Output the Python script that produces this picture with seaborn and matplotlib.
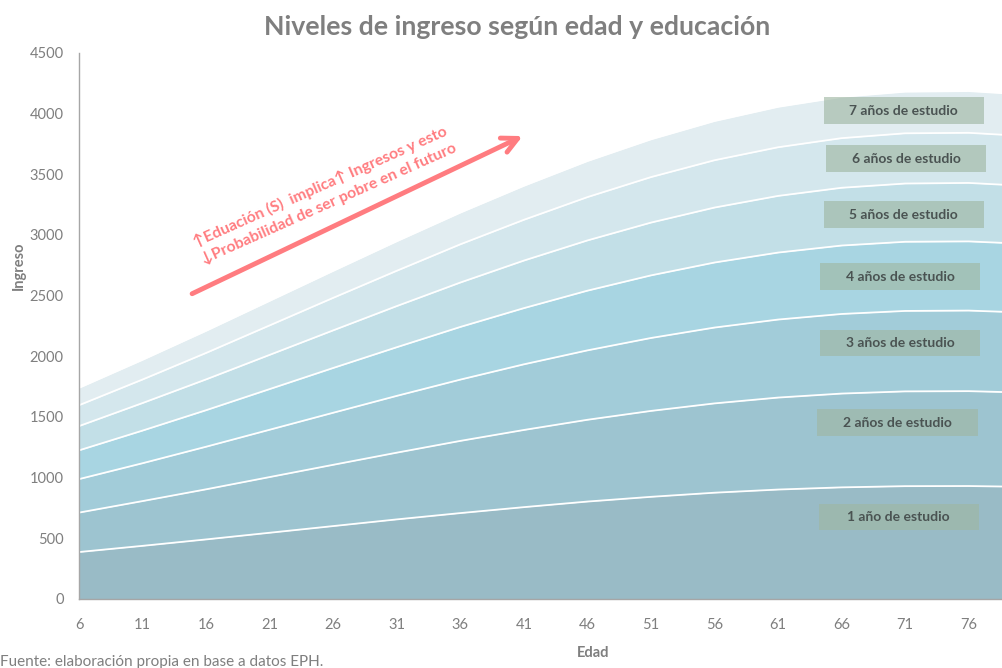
import matplotlib
matplotlib.use("Agg")
import matplotlib.pyplot as plt
import matplotlib.ticker as mticker
from matplotlib.patches import Rectangle
import seaborn as sns
import pandas as pd

# Edades (eje x) y niveles de ingreso para cada cantidad de años de estudio
edades = [6, 11, 16, 21, 26, 31, 36, 41, 46, 51, 56, 61, 66, 71, 76, 80]
ingreso_1 = [387, 438, 491, 546, 601, 656, 708, 757, 803, 842, 876, 902, 920, 930, 931, 925]
ingreso_2 = [712, 807, 904, 1005, 1106, 1206, 1303, 1393, 1477, 1550, 1612, 1660, 1693, 1711, 1713, 1702]
ingreso_3 = [988, 1119, 1255, 1395, 1535, 1674, 1808, 1934, 2049, 2151, 2237, 2303, 2349, 2374, 2377, 2362]
ingreso_4 = [1225, 1388, 1556, 1730, 1904, 2075, 2242, 2397, 2541, 2667, 2773, 2855, 2913, 2944, 2947, 2929]
ingreso_5 = [1425, 1615, 1810, 2012, 2214, 2414, 2608, 2789, 2955, 3102, 3226, 3322, 3389, 3424, 3429, 3407]
ingreso_6 = [1597, 1809, 2028, 2255, 2482, 2705, 2923, 3125, 3312, 3477, 3616, 3723, 3798, 3838, 3842, 3818]
ingreso_7 = [1740, 1971, 2210, 2457, 2704, 2948, 3184, 3405, 3609, 3788, 3939, 4056, 4138, 4181, 4186, 4160]

etiquetas = ["1 año de estudio", "2 años de estudio", "3 años de estudio",
             "4 años de estudio", "5 años de estudio", "6 años de estudio",
             "7 años de estudio"]

niveles = [ingreso_1, ingreso_2, ingreso_3, ingreso_4, ingreso_5, ingreso_6, ingreso_7]
colores = ["#99bbc6", "#9dc4d0", "#a2ccd9", "#a8d5e2", "#c2dfe7", "#d4e7ed", "#e2edf1"]

# posiciones de los recuadros (centro edad, centro ingreso)
pos_etiquetas = [(70.5, 676), (70.4, 1451), (70.6, 2110), (70.6, 2655),
                 (70.9, 3166), (71.1, 3627), (70.9, 4023)]

sns.set_style("white")
plt.rcParams['font.family'] = ['Lato', 'DejaVu Sans']

gris = "#7f7f7f"

fig = plt.figure(figsize=(10.03, 6.68), dpi=100)
ax = fig.add_axes([0.0788, 0.1033, 0.9212, 0.8174])

# areas
base = [0] * len(edades)
for vals, c in zip(niveles, colores):
    ax.fill_between(edades, base, vals, color=c, lw=0, zorder=1)
    base = vals

# lineas blancas entre capas
df = pd.DataFrame({
    "Edad": edades * len(niveles),
    "Ingreso": [v for vals in niveles for v in vals],
    "Nivel": [e for e in etiquetas for _ in edades],
})
sns.lineplot(data=df, x="Edad", y="Ingreso", hue="Nivel", palette=["white"] * 7,
             legend=False, lw=1.3, ax=ax, zorder=2)

# recuadros con etiquetas
for (cx, cy), txt in zip(pos_etiquetas, etiquetas):
    ax.add_patch(Rectangle((cx - 6.3, cy - 111), 12.6, 222, facecolor="#9fb7a2",
                           alpha=0.63, edgecolor="none", zorder=3))
    ax.text(cx, cy, txt, ha="center", va="center", fontsize=10, fontweight="bold",
            color="#4a5352", zorder=4)

# flecha y texto
rojo = "#ff7c80"
ax.annotate("", xy=(41.1, 3825), xytext=(14.7, 2506),
            arrowprops=dict(arrowstyle="->", lw=3.5, color=rojo, mutation_scale=28))
ax.text(25.3, 3330, "↑Eduación (S)  implica↑ Ingresos y esto\n↓Probabilidad de ser pobre en el futuro",
        rotation=24, rotation_mode="anchor", ha="center", va="center",
        multialignment="left", fontsize=11.3, fontweight="bold", color=rojo,
        linespacing=1.4, zorder=5)

ax.set_xlim(6, 78.7)
ax.set_ylim(0, 4500)
ax.xaxis.set_major_locator(mticker.FixedLocator(range(6, 80, 5)))
ax.xaxis.set_minor_locator(mticker.MultipleLocator(1))
ax.yaxis.set_major_locator(mticker.MultipleLocator(500))

for s in ["top", "right"]:
    ax.spines[s].set_visible(False)
for s in ["left", "bottom"]:
    ax.spines[s].set_color("#a6a6a6")
    ax.spines[s].set_linewidth(1.0)

ax.tick_params(axis="both", which="both", direction="out", color="#a6a6a6",
               labelcolor=gris, labelsize=10.5)
ax.tick_params(axis="x", which="major", length=5, pad=9)
ax.tick_params(axis="x", which="minor", length=5)
ax.tick_params(axis="y", which="major", length=5, pad=6)

ax.set_xlabel("Edad", fontsize=10.5, fontweight="bold", color=gris)
ax.set_ylabel("Ingreso", fontsize=10.5, fontweight="bold", color=gris)
ax.xaxis.set_label_coords(0.556, -0.087)
ax.yaxis.set_label_coords(-0.058, 0.61)

fig.text(0.516, 0.96, "Niveles de ingreso según edad y educación", ha="center",
         va="center", fontsize=19.2, fontweight="bold", color=gris)
fig.text(0.0, 0.003, "Fuente: elaboración propia en base a datos EPH.", ha="left",
         va="baseline", fontsize=11, color=gris)

fig.savefig("out.png", dpi=100)
